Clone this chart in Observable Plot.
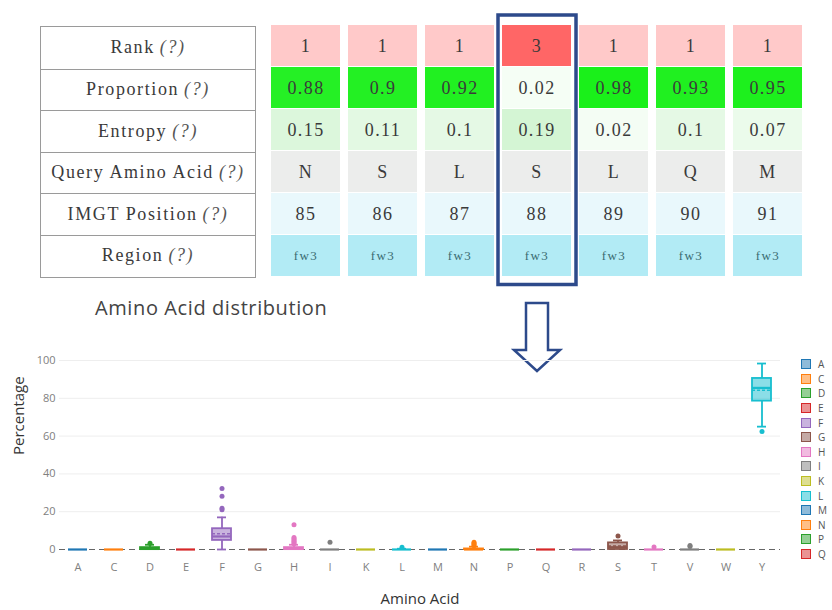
<!DOCTYPE html>
<html>
<head>
<meta charset="utf-8">
<script src="https://cdn.jsdelivr.net/npm/d3@7"></script>
<script src="https://cdn.jsdelivr.net/npm/@observablehq/plot@0.6"></script>
<style>
  html, body { margin: 0; padding: 0; background: #fff; }
  #wrap { position: relative; width: 832px; height: 610px; overflow: hidden; background: #fff; }
  #labels { position: absolute; left: 40px; top: 26px; width: 216px; height: 252px; border: 1.5px solid #9a9a9a; box-sizing: border-box;
            font-family: "Liberation Serif", "DejaVu Serif", serif; font-size: 18px; color: #3a3a3a; letter-spacing: 1.6px; }
  #labels div { height: 41.5px; display: flex; align-items: center; justify-content: center; border-top: 1.5px solid #9a9a9a; box-sizing: border-box; white-space: nowrap; }
  #labels div:first-child { border-top: none; }
  #labels i { color: #555; margin-left: 5px; }
  #table svg text { letter-spacing: 1.4px; }
  #table, #chart { position: absolute; left: 0; }
  #table { top: 0; }
  #chart { top: 330px; }
  #title { position: absolute; left: 95px; top: 298px; font-family: "Open Sans", sans-serif; font-size: 20px; line-height: 20px; color: #444; white-space: nowrap; letter-spacing: 0.6px; }
  #arrow { position: absolute; left: 0; top: 0; }
  #legend { position: absolute; left: 801px; top: 357px; width: 31px; font-family: "Open Sans", sans-serif; font-size: 10px; color: #555; }
  .li { height: 14.6px; display: flex; align-items: center; }
  .sw { width: 8px; height: 8px; border: 1.5px solid; margin-right: 7px; flex: none; }
</style>
</head>
<body>
<div id="wrap">
  <div id="table"></div>
  <div id="labels"></div>
  <svg id="arrow" width="832" height="400"></svg>
  <div id="title">Amino Acid distribution</div>
  <div id="chart"></div>
  <div id="legend"></div>
</div>
<script>
// ---------- table data ----------
const rowNames = ["Rank", "Proportion", "Entropy", "Query Amino Acid", "IMGT Position", "Region"];
const positions = [85, 86, 87, 88, 89, 90, 91];
const rank = [1, 1, 1, 3, 1, 1, 1];
const proportion = [0.88, 0.9, 0.92, 0.02, 0.98, 0.93, 0.95];
const entropy = [0.15, 0.11, 0.1, 0.19, 0.02, 0.1, 0.07];
const queryAA = ["N", "S", "L", "S", "L", "Q", "M"];
const region = ["fw3", "fw3", "fw3", "fw3", "fw3", "fw3", "fw3"];
const selectedPosition = 88;

// ---------- distribution data (percentages) ----------
const aminoAcids = ["A","C","D","E","F","G","H","I","K","L","M","N","P","Q","R","S","T","V","W","Y"];
const lowerWhisker = [0,0,0,0,0,0,0,0,0,0,0,0,0,0,0,0,0,0,0,65];
const q1 =           [0,0,0,0,4.8,0,0,0,0,0,0,0,0,0,0,0,0,0,0,78.5];
const median =       [0,0,0.3,0,6.9,0,0.3,0,0,0,0,0,0,0,0,1.2,0,0,0,85.5];
const q3 =           [0,0,1,0,11,0,1,0,0,0,0,0.3,0,0,0,3.5,0,0,0,90.5];
const upperWhisker = [0,0,2.5,0,17,0,2.5,0,0,0.4,0,1.5,0,0,0,4.8,0,0,0,98.4];
const mean =         [0,0,0.6,0,8.3,0,0.8,0,0,0,0,0.4,0,0,0,1.8,0,0,0,84.2];
const outlierAA =    ["D","F","F","F","F","H","H","H","H","H","H","H","I","L","N","N","N","N","S","T","V","V","Y"];
const outlierValue = [3.3,21,21.8,28.2,32.3,3,3.7,4.4,5,5.7,6.4,13.1,3.9,1.2,2,2.6,3.2,3.9,7.1,1.3,1.6,2.1,62.4];
const palette = ["#1f77b4","#ff7f0e","#2ca02c","#d62728","#9467bd","#8c564b","#e377c2","#7f7f7f","#bcbd22","#17becf",
                 "#1f77b4","#ff7f0e","#2ca02c","#d62728","#9467bd","#8c564b","#e377c2","#7f7f7f","#bcbd22","#17becf"];
const legendVisibleCount = 14; // the legend is scrolled: only the first entries fit beside the plot

// ---------- label column ----------
document.getElementById("labels").innerHTML = rowNames.map(r => `<div>${r}<i>(?)</i></div>`).join("");

// ---------- table cells ----------
const propColor = d3.scaleLinear().domain([0, 0.5, 1]).range(["#fcfffc", "#4ef04e", "#18f018"]);
const entColor = d3.scaleLinear().domain([0, 0.2]).range(["#f8fef8", "#d2f4d2"]);
const cells = positions.flatMap((p, i) => [
  {pos: p, row: "Rank", text: String(rank[i]), fill: rank[i] === 1 ? "#ffc9c9" : "#ff6666"},
  {pos: p, row: "Proportion", text: String(proportion[i]), fill: propColor(proportion[i])},
  {pos: p, row: "Entropy", text: String(entropy[i]), fill: entColor(entropy[i])},
  {pos: p, row: "Query Amino Acid", text: queryAA[i], fill: "#ecedec"},
  {pos: p, row: "IMGT Position", text: String(p), fill: "#e9f8fc"},
  {pos: p, row: "Region", text: region[i], fill: "#b2ebf5"}
]);

const table = Plot.plot({
  width: 832, height: 290,
  marginLeft: 269, marginRight: 27, marginTop: 25, marginBottom: 14,
  x: {type: "band", domain: positions, paddingInner: 0.1, paddingOuter: 0, axis: null},
  y: {type: "band", domain: rowNames, paddingInner: 0.035, paddingOuter: 0, axis: null},
  color: {type: "identity"},
  style: {fontFamily: "'Liberation Serif', serif", background: "transparent", overflow: "visible"},
  marks: [
    Plot.cell(cells, {x: "pos", y: "row", fill: "fill"}),
    Plot.text(cells.filter(d => d.row !== "Region"), {x: "pos", y: "row", text: "text", fontSize: 18, fill: "#3a3a3a"}),
    Plot.text(cells.filter(d => d.row === "Region"), {x: "pos", y: "row", text: "text", fontSize: 13, fill: "#3a6b72"}),
    Plot.cell([selectedPosition], {x: d => d, fill: "none", stroke: "#2d4a8b", strokeWidth: 3.5,
      insetLeft: -4, insetRight: -5, insetTop: -10, insetBottom: -8.5})
  ]
});
document.getElementById("table").appendChild(table);

// ---------- arrow ----------
d3.select("#arrow").append("path")
  .attr("d", "M526,303 H548 V350 H560 L537,371 L514,350 H526 Z")
  .attr("fill", "#fff").attr("stroke", "#2d4a8b").attr("stroke-width", 2.5).attr("stroke-linejoin", "miter");

// ---------- box plot ----------
const stats = aminoAcids.map((aa, i) => ({aa, lo: lowerWhisker[i], q1: q1[i], med: median[i], q3: q3[i], hi: upperWhisker[i], mean: mean[i]}));
const outliers = outlierAA.map((aa, i) => ({aa, v: outlierValue[i]}));

const chart = Plot.plot({
  width: 832, height: 280,
  marginLeft: 59, marginRight: 52, marginTop: 30, marginBottom: 61,
  x: {type: "band", domain: aminoAcids, paddingInner: 0.48, paddingOuter: 0.24},
  y: {domain: [0, 100]},
  color: {type: "ordinal", domain: aminoAcids, range: palette},
  style: {fontFamily: "'Open Sans', sans-serif", fontSize: "11px", background: "transparent", overflow: "visible"},
  marks: [
    Plot.gridY([20, 40, 60, 80, 100], {stroke: "#eeeeee", strokeOpacity: 1}),
    Plot.axisY({ticks: [0, 20, 40, 60, 80, 100], tickSize: 0, tickPadding: 4, label: null, color: "#808080", fontSize: 11}),
    Plot.axisX({tickSize: 0, tickPadding: 14, label: null, color: "#808080", fontSize: 11}),
    Plot.ruleY([0], {stroke: "#666", strokeDasharray: "6,4", strokeWidth: 1}),
    Plot.ruleX(stats.filter(d => d.hi > d.q3), {x: "aa", y1: "q3", y2: "hi", stroke: "aa", strokeWidth: 1.8}),
    Plot.ruleX(stats.filter(d => d.lo < d.q1), {x: "aa", y1: "lo", y2: "q1", stroke: "aa", strokeWidth: 1.8}),
    Plot.tickY(stats.filter(d => d.hi > d.q3), {x: "aa", y: "hi", stroke: "aa", strokeWidth: 1.8, insetLeft: 5, insetRight: 5}),
    Plot.tickY(stats.filter(d => d.lo < d.q1), {x: "aa", y: "lo", stroke: "aa", strokeWidth: 1.8, insetLeft: 5, insetRight: 5}),
    Plot.barY(stats.filter(d => d.q3 > d.q1), {x: "aa", y1: "q1", y2: "q3", fill: "aa", fillOpacity: 0.5, stroke: "aa", strokeWidth: 1.8}),
    Plot.tickY(stats, {x: "aa", y: "med", stroke: "aa", strokeWidth: 2.2}),
    Plot.tickY(stats.filter(d => d.mean !== d.med && d.q3 - d.q1 > 3), {x: "aa", y: "mean", stroke: "aa", strokeWidth: 1.5, strokeDasharray: "3,2"}),
    Plot.dot(outliers, {x: "aa", y: "v", fill: "aa", r: 2.5}),
    Plot.text(["Percentage"], {frameAnchor: "left", dx: -40, rotate: -90, fontSize: 15, fill: "#333"}),
    Plot.text(["Amino Acid"], {frameAnchor: "bottom", dy: 54, fontSize: 15, fill: "#333"})
  ]
});
document.getElementById("chart").appendChild(chart);

// ---------- legend ----------
document.getElementById("legend").innerHTML = aminoAcids.slice(0, legendVisibleCount).map((aa, i) => {
  const f = d3.color(palette[i]).copy({opacity: 0.5});
  return `<div class="li"><span class="sw" style="border-color:${palette[i]};background:${f}"></span>${aa}</div>`;
}).join("");
</script>
</body>
</html>
